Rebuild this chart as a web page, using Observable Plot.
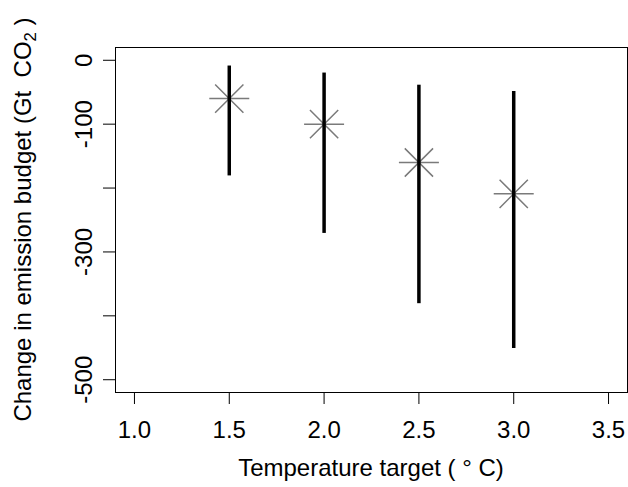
<!DOCTYPE html>
<html>
<head>
<meta charset="utf-8">
<script src="https://cdn.jsdelivr.net/npm/d3@7"></script>
<script src="https://cdn.jsdelivr.net/npm/@observablehq/plot@0.6"></script>
<style>
  html, body { margin: 0; padding: 0; background: #fff; }
  #chart svg { display: block; }
</style>
</head>
<body>
<div id="chart"></div>
<script>
// Data
const targets = [1.5, 2.0, 2.5, 3.0];            // Temperature target (°C)
const central = [-60, -100, -160, -209];         // star markers
const upper   = [-9, -20, -39, -49];             // top of range
const lower   = [-181, -271, -381, -451];        // bottom of range
const xTicks  = [1.0, 1.5, 2.0, 2.5, 3.0, 3.5];
const yTicks  = [0, -100, -200, -300, -400, -500];
const yTickLabels = ["0", "-100", "", "-300", "", "-500"];

const data = targets.map((t, i) => ({t, c: central[i], hi: upper[i], lo: lower[i]}));

const FONT = "Liberation Sans, Arial, Helvetica, sans-serif";
const FS = 24;

// pch = 8 style asterisk: plus + cross
const asterisk = {
  draw(ctx, size) {
    const r = Math.sqrt(size / Math.PI);
    const d = r / Math.SQRT2;
    ctx.moveTo(-r, 0); ctx.lineTo(r, 0);
    ctx.moveTo(0, -r); ctx.lineTo(0, r);
    ctx.moveTo(-d, -d); ctx.lineTo(d, d);
    ctx.moveTo(-d, d); ctx.lineTo(d, -d);
  }
};

const chart = Plot.plot({
  width: 628,
  height: 487,
  marginLeft: 115,
  marginRight: 1,
  marginTop: 47,
  marginBottom: 95,
  style: {fontFamily: FONT, fontSize: FS + "px", color: "#000", background: "#fff"},
  x: {domain: [0.9, 3.6]},
  y: {domain: [-520, 20]},
  marks: [
    Plot.frame({stroke: "#000", strokeWidth: 1}),
    Plot.axisX({
      ticks: xTicks, tickFormat: d3.format(".1f"), tickSize: 12, tickPadding: 16,
      stroke: "#000", strokeWidth: 1, label: null, fontSize: FS
    }),
    Plot.axisY({
      ticks: yTicks, tickFormat: () => "", tickSize: 12,
      stroke: "#000", strokeWidth: 1, label: null
    }),
    Plot.axisY({
      ticks: yTicks, tickFormat: (d) => yTickLabels[yTicks.indexOf(d)],
      tickSize: 0, tickPadding: 31, rotate: -90, textAnchor: "middle", lineAnchor: "middle",
      label: null, fontSize: FS
    }),
    Plot.dot(data, {x: "t", y: "c", symbol: asterisk, r: 20, stroke: "#7a7a7a", strokeWidth: 1.5, fill: "none"}),
    Plot.ruleX(data, {x: "t", y1: "lo", y2: "hi", stroke: "#000", strokeWidth: 3.5})
  ]
});

document.getElementById("chart").appendChild(chart);

// Axis titles (R-style, with subscript)
const svg = d3.select(chart);
svg.append("text")
  .attr("x", (115 + 627) / 2)
  .attr("y", 476)
  .attr("text-anchor", "middle")
  .attr("font-family", FONT)
  .attr("font-size", FS)
  .attr("fill", "#000")
  .text("Temperature target ( \u00B0 C)");

const yl = svg.append("text")
  .attr("transform", `translate(31, ${(47 + 392) / 2}) rotate(-90)`)
  .attr("text-anchor", "middle")
  .attr("font-family", FONT)
  .attr("font-size", FS)
  .attr("fill", "#000");
yl.append("tspan").text("Change in emission budget (Gt  CO");
yl.append("tspan").attr("font-size", FS * 0.7).attr("dy", "0.3em").text("2");
yl.append("tspan").attr("dy", "-0.21em").text(" )");
</script>
</body>
</html>
